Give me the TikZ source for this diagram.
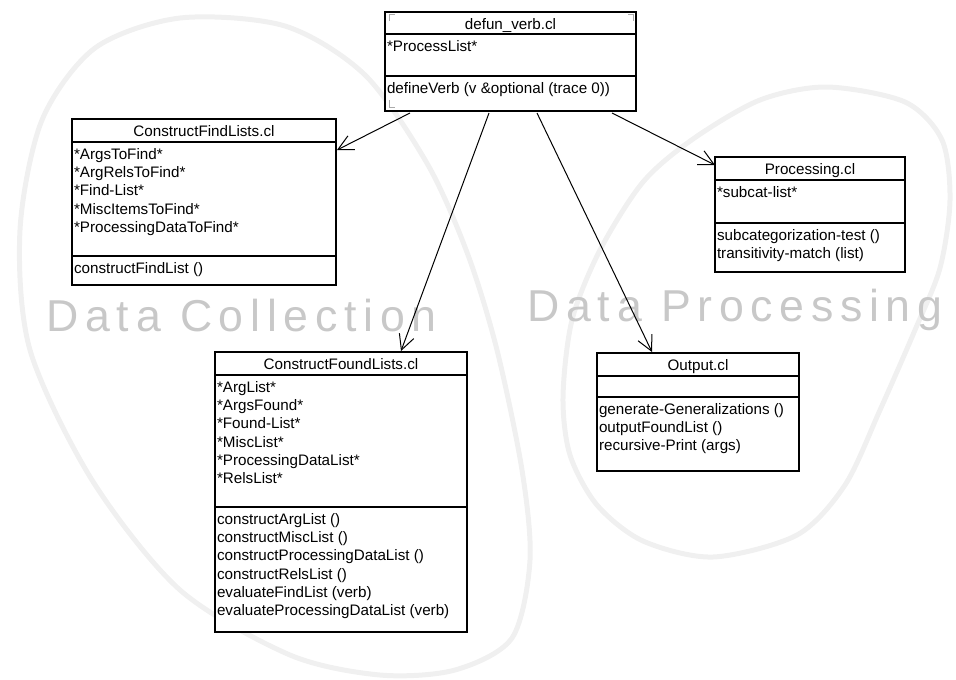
\documentclass[tikz,border=0pt]{standalone}
\usepackage{fontspec}
\usetikzlibrary{arrows.meta,calc}
\newfontfamily\umlfont{Liberation Sans}
\newfontfamily\areafont[LetterSpace=15]{Liberation Sans}
\definecolor{arealine}{RGB}{240,240,240}
\definecolor{areatext}{RGB}{200,200,200}
\definecolor{handlegray}{RGB}{170,170,170}

\tikzset{every picture/.style={line width=0.75pt}}
\tikzset{
  classbox/.style={draw, line width=1.5pt, fill=white, inner sep=0pt, outer sep=0pt, anchor=north west},
  classrule/.style={line width=1.5pt},
  classtitle/.style={anchor=base, inner sep=0pt, font=\umlfont\fontsize{11.4}{13.75}\selectfont},
  members/.style={anchor=north west, inner sep=0pt, align=left, font=\umlfont\fontsize{11.4}{13.75}\selectfont},
  dep/.style={-{Straight Barb[length=11.25pt,width=11.5pt]}, line width=0.75pt},
  area/.style={draw=arealine, line width=3.75pt},
  arealabel/.style={anchor=base west, inner sep=0pt, text=areatext, font=\areafont\fontsize{33.5}{40}\selectfont},
  handle/.style={draw=handlegray, line width=0.6pt}
}

\begin{document}
\begin{tikzpicture}[x=0.75pt,y=0.75pt,yscale=-1,xscale=1]
		\useasboundingbox (0,0) rectangle (956,679);
		
		%Region: Data Collection
		\draw[area] plot[smooth cycle] coordinates {(180,18) (285,26) (365,75) (428,165) (468,255) (497,350) (522,470) (530,560) (512,638) (455,670) (380,675) (290,655) (180,590) (92,480) (30,350) (20,230) (42,120) (95,48)};
		%Region: Data Processing
		\draw[area] plot[smooth cycle] coordinates {(693,139) (760,100) (827,87) (905,102) (942,140) (950,200) (940,268) (915,330) (880,410) (845,485) (797,535) (713,557) (643,541) (597,505) (570,455) (563,397) (572,320) (600,250) (643,182)};
		
		\node[arealabel] (collect) at (46,331) {Data Collection};
		\node[arealabel] (process) at (527,321) {Data Processing};
		
		%Class: defun_verb.cl
		\node[classbox, minimum width=188.25pt, minimum height=74.25pt] (defun) at (385,12) {};
		\draw[classrule] ($(defun.north west)+(0,22)$) -- ($(defun.north east)+(0,22)$);
		\draw[classrule] ($(defun.north west)+(0,64)$) -- ($(defun.north east)+(0,64)$);
		\draw[handle] ($(defun.north west)+(4,9)$) -- ($(defun.north west)+(4,2)$) -- ($(defun.north west)+(10,2)$);
		\draw[handle] ($(defun.north east)+(-8,2)$) -- ($(defun.north east)+(-3,2)$) -- ($(defun.north east)+(-3,9)$);
		\draw[handle] ($(defun.south west)+(4,-11)$) -- ($(defun.south west)+(4,-4)$) -- ($(defun.south west)+(10,-4)$);
		\node[classtitle] (defun-title) at ($(defun.north)+(0,17)$) {defun\_verb.cl};
		\node[members] (defun-attr) at ($(defun.north west)+(1.5,27.5)$) {*ProcessList*};
		\node[members] (defun-ops) at ($(defun.north west)+(1.5,69.5)$) {defineVerb (v \&optional (trace 0))};
		
		%Class: ConstructFindLists.cl
		\node[classbox, minimum width=198pt, minimum height=124.5pt] (findlists) at (72,119) {};
		\draw[classrule] ($(findlists.north west)+(0,23)$) -- ($(findlists.north east)+(0,23)$);
		\draw[classrule] ($(findlists.north west)+(0,137)$) -- ($(findlists.north east)+(0,137)$);
		\node[classtitle] (findlists-title) at ($(findlists.north)+(0,17)$) {ConstructFindLists.cl};
		\node[members] (findlists-attr) at ($(findlists.north west)+(1.5,28.5)$) {*ArgsToFind*\\*ArgRelsToFind*\\*Find-List*\\*MiscItemsToFind*\\*ProcessingDataToFind*};
		\node[members] (findlists-ops) at ($(findlists.north west)+(1.5,142.5)$) {constructFindList ()};
		
		%Class: Processing.cl
		\node[classbox, minimum width=142.5pt, minimum height=86.25pt] (processing) at (715,157) {};
		\draw[classrule] ($(processing.north west)+(0,23)$) -- ($(processing.north east)+(0,23)$);
		\draw[classrule] ($(processing.north west)+(0,66)$) -- ($(processing.north east)+(0,66)$);
		\node[classtitle] (processing-title) at ($(processing.north)+(0,17)$) {Processing.cl};
		\node[members] (processing-attr) at ($(processing.north west)+(1.5,28.5)$) {*subcat-list*};
		\node[members] (processing-ops) at ($(processing.north west)+(1.5,71.5)$) {subcategorization-test ()\\transitivity-match (list)};
		
		%Class: ConstructFoundLists.cl
		\node[classbox, minimum width=189pt, minimum height=210pt] (foundlists) at (215,352) {};
		\draw[classrule] ($(foundlists.north west)+(0,23)$) -- ($(foundlists.north east)+(0,23)$);
		\draw[classrule] ($(foundlists.north west)+(0,155)$) -- ($(foundlists.north east)+(0,155)$);
		\node[classtitle] (foundlists-title) at ($(foundlists.north)+(0,17)$) {ConstructFoundLists.cl};
		\node[members] (foundlists-attr) at ($(foundlists.north west)+(1.5,28.5)$) {*ArgList*\\*ArgsFound*\\*Found-List*\\*MiscList*\\*ProcessingDataList*\\*RelsList*};
		\node[members] (foundlists-ops) at ($(foundlists.north west)+(1.5,160.5)$) {constructArgList ()\\constructMiscList ()\\constructProcessingDataList ()\\constructRelsList ()\\evaluateFindList (verb)\\evaluateProcessingDataList (verb)};
		
		%Class: Output.cl
		\node[classbox, minimum width=151.5pt, minimum height=88.5pt] (output) at (597,353) {};
		\draw[classrule] ($(output.north west)+(0,23)$) -- ($(output.north east)+(0,23)$);
		\draw[classrule] ($(output.north west)+(0,44)$) -- ($(output.north east)+(0,44)$);
		\node[classtitle] (output-title) at ($(output.north)+(0,17)$) {Output.cl};
		\node[members] (output-ops) at ($(output.north west)+(1.5,49.5)$) {generate-Generalizations ()\\outputFoundList ()\\recursive-Print (args)};
		
		%Dependencies
		\draw[dep] ($(defun.south west)+(25,2)$) -- ($(findlists.north east)+(1,31)$);
		\draw[dep] ($(defun.south west)+(104,2)$) -- ($(foundlists.north west)+(186,-1)$);
		\draw[dep] ($(defun.south west)+(152,2)$) -- ($(output.north west)+(55,-1)$);
		\draw[dep] ($(defun.south west)+(227,2)$) -- ($(processing.north west)+(0,8)$);
		
\end{tikzpicture}
\end{document}
